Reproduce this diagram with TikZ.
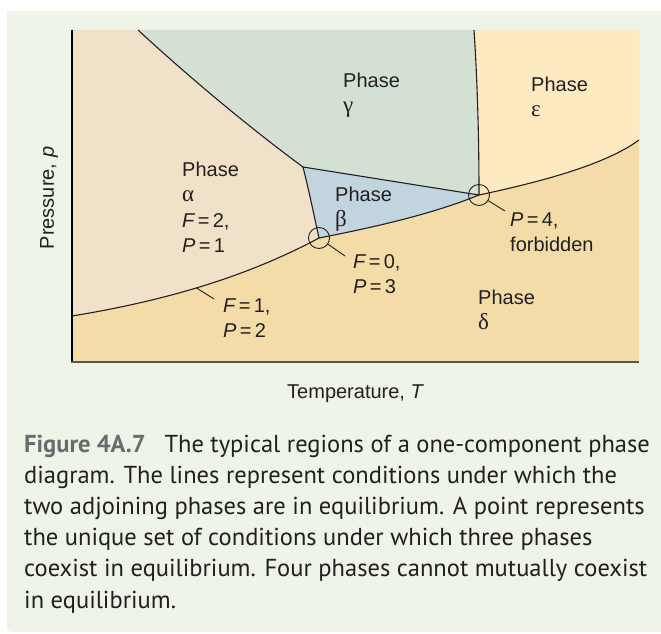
\documentclass[tikz,border=0pt]{standalone}
\usepackage{fontspec}
\setmainfont{Liberation Sans}
\newfontfamily\greekfont{Liberation Serif}
\newfontfamily\captionfont{PT Sans}
\usetikzlibrary{calc}
\definecolor{PDPanel}{RGB}{238,244,231}
\definecolor{PDAlpha}{RGB}{242,225,201}
\definecolor{PDGamma}{RGB}{213,224,213}
\definecolor{PDEpsilon}{RGB}{253,234,192}
\definecolor{PDBeta}{RGB}{194,212,222}
\definecolor{PDDelta}{RGB}{243,220,167}
\definecolor{PDText}{RGB}{35,31,32}
\definecolor{PDFigGray}{RGB}{106,107,109}
\definecolor{PDAxis}{RGB}{88,86,78}
\newcommand{\gk}[1]{{\greekfont\fontsize{23}{25.5}\selectfont #1}}

\tikzset{
  phaselabel/.style={anchor=base west, inner sep=0pt, align=left, text=PDText,
    font=\fontsize{20}{25.5}\selectfont},
  phaseline/.style={PDText, line width=1.1pt},
  pointring/.style={circle, draw=PDText, line width=0.9pt, minimum size=21pt, inner sep=0pt},
  leader/.style={PDText, line width=0.9pt},
}

\begin{document}
\begin{tikzpicture}[x=1pt,y=-1pt]
  \path[use as bounding box] (0,0) rectangle (661,634);
  % panel
  \fill[PDPanel] (7,11) -- (661,11) -- (661,632) -- (19,632) .. controls (7,632) .. (7,620) -- cycle;

  % key points of the diagram
  \coordinate (A) at (138,30);
  \coordinate (G) at (474,30);
  \coordinate (L) at (72,316);
  \coordinate (R) at (639,140);
  \coordinate (T1) at (303,167);
  \coordinate (T2) at (319,238);
  \coordinate (Q) at (479,195);

  % phase regions
  \fill[PDDelta] (72,30) rectangle (639,362);
  \fill[PDAlpha] (72,30) -- (A) .. controls (190,78) and (250,128) .. (T1)
    .. controls (310,195) and (315,220) .. (T2)
    .. controls (250,275) and (170,300) .. (L) -- cycle;
  \fill[PDGamma] (A) -- (G) .. controls (478,90) and (479,150) .. (Q) -- (T1)
    .. controls (250,128) and (190,78) .. (A) -- cycle;
  \fill[PDEpsilon] (G) -- (639,30) -- (R) .. controls (605,165) and (540,182) .. (Q)
    .. controls (479,150) and (478,90) .. (G) -- cycle;
  \fill[PDBeta] (T1) -- (Q) .. controls (430,215) and (370,228) .. (T2)
    .. controls (315,220) and (310,195) .. (T1) -- cycle;

  % phase boundaries
  \draw[phaseline] (A) .. controls (190,78) and (250,128) .. (T1);
  \draw[phaseline] (T1) -- (Q);
  \draw[phaseline] (T1) .. controls (310,195) and (315,220) .. (T2);
  \draw[phaseline] (T2) .. controls (370,228) and (430,215) .. (Q);
  \draw[phaseline] (L) .. controls (170,300) and (250,275) .. coordinate[pos=0.46] (tick1) (T2);
  \draw[phaseline] (G) .. controls (478,90) and (479,150) .. (Q);
  \draw[phaseline] (Q) .. controls (540,182) and (605,165) .. (R);

  % axes
  \draw[black, line width=1.3pt] (72,30) -- (72,363);
  \draw[PDAxis, line width=2pt] (71.35,362) -- (639,362);

  % special points
  \node[pointring] (triple) at (T2) {};
  \node[pointring] (quad) at (Q) {};
  \coordinate (lead1) at (345,256);
  \coordinate (lead2) at (505,211);
  \coordinate (tick1end) at (214,299);
  \draw[leader] (triple) -- (lead1);
  \draw[leader] (quad) -- (lead2);
  \draw[leader] (tick1) -- (tick1end);

  % labels (placed at the baseline of their last line)
  \node[phaselabel] (gamma) at (343,112.5) {Phase\\\gk{γ}};
  \node[phaselabel] (epsilon) at (531,116.5) {Phase\\\gk{ε}};
  \node[phaselabel] (alpha) at (182,252.5) {Phase\\\gk{α}\\{\itshape F}\,=\,2,\\{\itshape P}\,=\,1};
  \node[phaselabel] (beta) at (335,226.5) {Phase\\\gk{β}};
  \node[phaselabel] (triplelbl) at (353,293.5) {{\itshape F}\,=\,0,\\{\itshape P}\,=\,3};
  \node[phaselabel] (quadlbl) at (510,251.5) {{\itshape P}\,=\,4,\\forbidden};
  \node[phaselabel] (delta) at (478,329.5) {Phase\\\gk{δ}};
  \node[phaselabel] (linelbl) at (223,337.5) {{\itshape F}\,=\,1,\\{\itshape P}\,=\,2};

  % axis titles
  \node[phaselabel, anchor=base] (tlabel) at (355,398) {Temperature, {\itshape T}};
  \node[phaselabel, anchor=center, rotate=90] (plabel) at (49,198) {Pressure, {\itshape p}};

  % caption
  \node[anchor=base west, inner sep=0pt, align=left, text=PDText,
    font=\captionfont\fontsize{24.5}{31.2}\selectfont] (caption) at (24,608) {
    {\bfseries\color{PDFigGray}Figure 4A.7}\hspace{0.5em} The typical regions of a one-component phase\\
    diagram. The lines represent conditions under which the\\
    two adjoining phases are in equilibrium. A point represents\\
    the unique set of conditions under which three phases\\
    coexist in equilibrium. Four phases cannot mutually coexist\\
    in equilibrium.};
\end{tikzpicture}
\end{document}
